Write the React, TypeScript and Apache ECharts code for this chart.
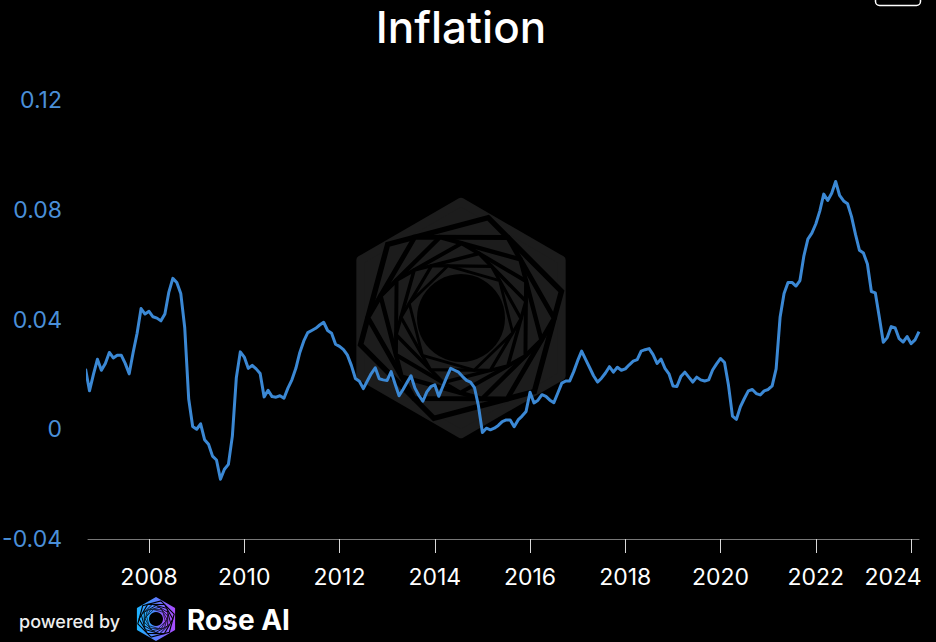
import React, { useEffect, useRef } from "react";
import * as echarts from "echarts";

// ---- data (monthly YoY inflation, first value = Sep 2006) ----
const START_YEAR = 2006;
const START_MONTH = 9;
const v2006 = [0.022, 0.014, 0.02, 0.0255];
const v2007 = [0.0215, 0.024, 0.028, 0.026, 0.027, 0.027, 0.024, 0.0202, 0.028, 0.035, 0.044, 0.042];
const v2008 = [0.043, 0.041, 0.0405, 0.0395, 0.042, 0.05, 0.055, 0.0535, 0.0495, 0.037, 0.011, 0.001];
const v2009 = [0.0, 0.002, -0.0038, -0.0055, -0.0098, -0.0112, -0.0182, -0.0146, -0.0128, -0.0025, 0.0188, 0.0282];
const v2010 = [0.0263, 0.0222, 0.0233, 0.022, 0.0203, 0.0118, 0.0142, 0.0119, 0.0117, 0.0122, 0.0113, 0.015];
const v2011 = [0.018, 0.0222, 0.028, 0.0322, 0.0352, 0.036, 0.0368, 0.038, 0.039, 0.036, 0.035, 0.031];
const v2012 = [0.0302, 0.029, 0.027, 0.0232, 0.0185, 0.0175, 0.0148, 0.0176, 0.0203, 0.0224, 0.0184, 0.018];
const v2013 = [0.0178, 0.021, 0.0165, 0.0122, 0.0145, 0.017, 0.0195, 0.015, 0.0123, 0.0102, 0.0136, 0.0155];
const v2014 = [0.0162, 0.012, 0.0155, 0.019, 0.0222, 0.0215, 0.0208, 0.0192, 0.0178, 0.0172, 0.0152, 0.0085];
const v2015 = [-0.0012, 0.0004, -0.0002, 0.0004, 0.0014, 0.0028, 0.0034, 0.0034, 0.0009, 0.0034, 0.0048, 0.0065];
const v2016 = [0.0135, 0.0096, 0.0106, 0.0126, 0.012, 0.0106, 0.0097, 0.0132, 0.0168, 0.0176, 0.0176, 0.021];
const v2017 = [0.025, 0.0285, 0.0255, 0.0225, 0.0195, 0.0172, 0.0186, 0.0205, 0.0228, 0.0208, 0.0226, 0.0215];
const v2018 = [0.022, 0.0235, 0.0248, 0.0254, 0.0285, 0.029, 0.0294, 0.0272, 0.024, 0.0256, 0.0222, 0.0202];
const v2019 = [0.0158, 0.0156, 0.0192, 0.0208, 0.019, 0.0172, 0.019, 0.018, 0.0176, 0.018, 0.0216, 0.0238];
const v2020 = [0.0258, 0.0243, 0.016, 0.0048, 0.0036, 0.0082, 0.0112, 0.014, 0.0145, 0.013, 0.0125, 0.014];
const v2021 = [0.0145, 0.0158, 0.022, 0.0408, 0.0495, 0.0535, 0.0535, 0.0522, 0.0542, 0.0632, 0.0693, 0.0715];
const v2022 = [0.0748, 0.0795, 0.0857, 0.0834, 0.086, 0.0903, 0.0852, 0.0832, 0.0822, 0.0775, 0.071, 0.0652];
const v2023 = [0.0642, 0.0602, 0.0502, 0.0497, 0.0408, 0.0317, 0.0334, 0.0374, 0.0369, 0.033, 0.0318, 0.0338];
const v2024 = [0.0312, 0.0326, 0.0356];

const inflationValues = [
  ...v2006, ...v2007, ...v2008, ...v2009, ...v2010, ...v2011, ...v2012, ...v2013,
  ...v2014, ...v2015, ...v2016, ...v2017, ...v2018, ...v2019, ...v2020, ...v2021,
  ...v2022, ...v2023, ...v2024,
];

const xTickYears = [2008, 2010, 2012, 2014, 2016, 2018, 2020, 2022, 2024];
const yMin = -0.04;
const yMax = 0.12;
const yStep = 0.04;
const X_MIN = 2006.719;
const TITLE = "Inflation";

const LINE_COLOR = "#3b88d4";
const Y_LABEL_COLOR = "#4a8fd8";

function hexagon(cx: number, cy: number, r: number): number[][] {
  const pts: number[][] = [];
  for (let k = 0; k < 6; k++) {
    const a = (-90 + 60 * k) * (Math.PI / 180);
    pts.push([cx + r * Math.cos(a), cy + r * Math.sin(a)]);
  }
  return pts;
}

function spiral(cx: number, cy: number, r: number, t: number, n: number): number[][][] {
  const list: number[][][] = [];
  let cur = hexagon(cx, cy, r);
  list.push(cur);
  for (let i = 0; i < n; i++) {
    const next: number[][] = [];
    for (let k = 0; k < 6; k++) {
      const a = cur[k];
      const b = cur[(k + 1) % 6];
      next.push([a[0] + (b[0] - a[0]) * t, a[1] + (b[1] - a[1]) * t]);
    }
    cur = next;
    list.push(cur);
  }
  return list;
}

function logoElements(
  cx: number,
  cy: number,
  r: number,
  fill: any,
  gap: number,
  z: number,
  centerR: number
): any[] {
  const polys = spiral(cx, cy, r, 0.27, 7);
  const els: any[] = [];
  polys.forEach((pts, i) => {
    if (i === 0) {
      els.push({
        type: "polygon",
        silent: true,
        z,
        shape: { points: pts },
        style: { fill, stroke: fill, lineWidth: gap * 1.4, lineJoin: "round" },
      });
    } else {
      const scale = Math.pow(0.9, i);
      els.push({
        type: "polygon",
        silent: true,
        z: z + i * 0.01,
        shape: { points: pts },
        style: {
          fill,
          stroke: "#000",
          lineWidth: Math.max(gap * 0.45, gap * scale),
          lineJoin: "miter",
        },
      });
    }
  });
  els.push({
    type: "circle",
    silent: true,
    z: z + 0.5,
    shape: { cx, cy, r: centerR },
    style: { fill: "#000" },
  });
  return els;
}

export default function App() {
  const ref = useRef<HTMLDivElement>(null);

  useEffect(() => {
    if (!ref.current) return;
    const chart = echarts.init(ref.current, undefined, { renderer: "svg" });

    const data = inflationValues.map((v, i) => {
      const m = START_MONTH - 1 + i;
      return [START_YEAR + m / 12, v];
    });
    const xMax = data[data.length - 1][0];

    const grad = new echarts.graphic.LinearGradient(0, 0, 1, 0, [
      { offset: 0, color: "#1fb3ff" },
      { offset: 0.5, color: "#5a7dff" },
      { offset: 1, color: "#a84cff" },
    ]);

    const graphics: any[] = [
      ...logoElements(461, 318, 116, "#1c1c1c", 6, -10, 44),
      ...logoElements(156, 619, 21, grad, 1.3, 10, 7),
      {
        type: "text",
        x: 461,
        y: 27,
        z: 20,
        style: {
          text: TITLE,
          fill: "#ffffff",
          font: "500 44px Inter",
          align: "center",
          verticalAlign: "middle",
          textAlign: "center",
          textVerticalAlign: "middle",
        },
      },
      {
        type: "text",
        x: 19,
        y: 621,
        z: 20,
        style: {
          text: "powered by",
          fill: "#eeeeee",
          font: "500 18px Inter",
          align: "left",
          verticalAlign: "middle",
          textAlign: "left",
          textVerticalAlign: "middle",
        },
      },
      {
        type: "text",
        x: 187,
        y: 620,
        z: 20,
        style: {
          text: "Rose AI",
          fill: "#ffffff",
          font: "700 28px Inter",
          align: "left",
          verticalAlign: "middle",
          textAlign: "left",
          textVerticalAlign: "middle",
        },
      },
      {
        type: "rect",
        z: 20,
        shape: { x: 875.5, y: -20, width: 45, height: 25.5, r: 4 },
        style: { fill: "none", stroke: "#ffffff", lineWidth: 1.5 },
      },
    ];

    chart.setOption({
      animation: false,
      backgroundColor: "#000000",
      grid: { left: 88, right: 17, top: 100, bottom: 103, containLabel: false, outerBoundsMode: "none" },
      xAxis: {
        type: "value",
        min: X_MIN,
        max: xMax,
        splitLine: { show: false },
        axisLine: { show: true, onZero: false, lineStyle: { color: "#777777", width: 1 } },
        axisTick: {
          show: true,
          length: 14,
          inside: false,
          customValues: xTickYears,
          lineStyle: { color: "#d8d8d8", width: 1 },
        },
        axisLabel: {
          customValues: xTickYears,
          color: "#ffffff",
          fontSize: 23,
          fontFamily: "Inter",
          margin: 26,
          formatter: (v: number) => {
            const y = Math.round(v);
            return y === xTickYears[xTickYears.length - 1] ? `{last|${y}}` : `${y}`;
          },
          rich: {
            last: {
              color: "#ffffff",
              fontSize: 23,
              fontFamily: "Inter",
              padding: [0, 36, 0, 0],
            },
          },
        },
      },
      yAxis: {
        type: "value",
        min: yMin,
        max: yMax,
        interval: yStep,
        splitLine: { show: false },
        axisLine: { show: false },
        axisTick: { show: false },
        axisLabel: {
          color: Y_LABEL_COLOR,
          fontSize: 23,
          fontFamily: "Inter",
          margin: 26,
          formatter: (v: number) => String(Number(v.toFixed(2))),
        },
      },
      graphic: { elements: graphics },
      series: [
        {
          type: "line",
          name: TITLE,
          data,
          showSymbol: false,
          symbol: "none",
          clip: true,
          z: 5,
          lineStyle: { color: LINE_COLOR, width: 3, join: "round" },
        },
      ],
    });

    return () => chart.dispose();
  }, []);

  return (
    <div
      ref={ref}
      style={{ position: "fixed", left: 0, top: 0, width: 936, height: 642, background: "#000" }}
    />
  );
}
